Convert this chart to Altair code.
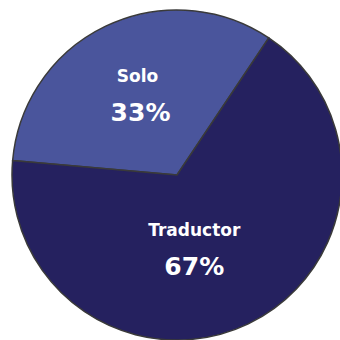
import math
import altair as alt
import pandas as pd

categories = ["Solo", "Traductor"]
values = [33, 67]
colors = ["#4a559c", "#25215f"]
order = [0, 1]

df = pd.DataFrame({"cat": categories, "value": values, "order": order})

start = math.radians(275)
theta = alt.Theta("value:Q", stack=True, scale=alt.Scale(range=[start, start + 2 * math.pi]))
base = alt.Chart(df).encode(theta=theta, order=alt.Order("order:Q"),
                            x=alt.value(177), y=alt.value(175))

pie = base.mark_arc(outerRadius=165, stroke="#3a3a3a", strokeWidth=1.5).encode(
    color=alt.Color("cat:N", scale=alt.Scale(domain=categories, range=colors), legend=None)
)

FONT = "DejaVu Sans"


def labels(cat, radius, dx, name_dy, pct_dy, pct_dx):
    name = base.transform_calculate(
        lab=f"datum.cat == '{cat}' ? datum.cat : ''"
    ).mark_text(radius=radius, dx=dx, dy=name_dy, font=FONT, fontWeight="bold",
                fontSize=17, color="white").encode(text="lab:N")
    pct = base.transform_calculate(
        lab=f"datum.cat == '{cat}' ? format(datum.value, 'd') + '%' : ''"
    ).mark_text(radius=radius, dx=dx + pct_dx, dy=pct_dy, font=FONT, fontWeight="bold",
                fontSize=25, color="white").encode(text="lab:N")
    return [name, pct]


layers = [pie] + labels("Solo", 89, -1, -18, 18, 3) + labels("Traductor", 77, -16, -13, 23, 0)

chart = alt.layer(*layers).properties(
    width=340, height=340, autosize=alt.AutoSizeParams(type="none"), padding=0,
    background="white"
).configure_view(stroke=None)

chart.save("out.html", embed_options={"renderer": "svg", "actions": False})
